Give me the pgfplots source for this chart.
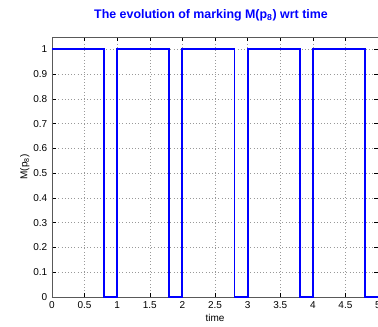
\documentclass[border=0pt]{standalone}
\usepackage{pgfplots}
\pgfplotsset{compat=1.18}
\usepackage{fontspec}
\setmainfont{Liberation Sans}
\definecolor{mblue}{RGB}{0,0,255}
\begin{document}
\begin{tikzpicture}
\begin{axis}[
  name=ax,
  scale only axis,
  width=244.5pt, height=195pt,
  xmin=0, xmax=5, ymin=0, ymax=1.05,
  xtick={0,0.5,...,5},
  ytick={0,0.1,...,1},
  xticklabels={0,0.5,1,1.5,2,2.5,3,3.5,4,4.5,5},
  yticklabels={0,0.1,0.2,0.3,0.4,0.5,0.6,0.7,0.8,0.9,1},
  tick align=inside,
  tick style={black, thin},
  major tick length=3pt,
  grid=major,
  grid style={dotted, gray!80},
  axis line style={gray!70!black},
  tick label style={font=\fontsize{7.5}{8}\selectfont},
  /pgf/number format/assume math mode=true,
  xlabel={time},
  ylabel={M(p\textsubscript{8})},
  label style={font=\fontsize{7.5}{8}\selectfont},
  xlabel style={yshift=3pt},
  ylabel style={yshift=-4pt},
  title={The evolution of marking M(p\textsubscript{8}) wrt time},
  title style={font=\bfseries\fontsize{9.3}{11}\selectfont, text=mblue, yshift=2pt, xshift=-3pt},
]
\addplot[draw=mblue, line width=1.4pt, mark=none, const plot] coordinates {
  (0,1) (0.8,0) (1,1) (1.8,0) (2,1) (2.8,0) (3,1) (3.8,0) (4,1) (4.8,0) (5,0)
};
\end{axis}
\pgfresetboundingbox
\path ([xshift=-39pt,yshift=-21.75pt]ax.south west) rectangle ([yshift=27.75pt]ax.north east);
\end{tikzpicture}
\end{document}
